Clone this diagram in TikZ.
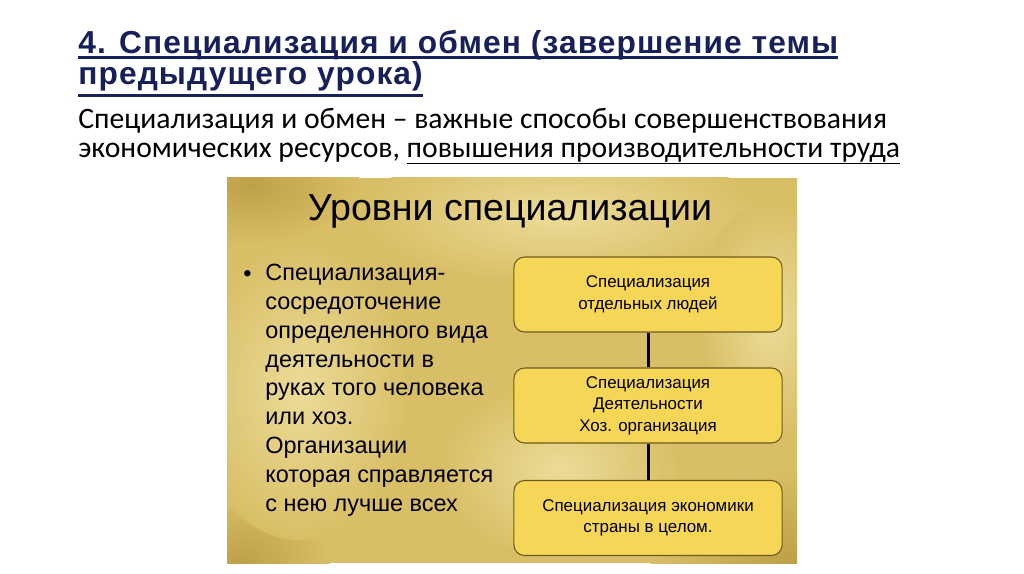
\documentclass[tikz,border=0pt]{standalone}
\usepackage{fontspec}
\setmainfont{Liberation Sans}
\newfontfamily\titlefont[FakeStretch=0.86, LetterSpace=3]{Liberation Sans Bold}
\newfontfamily\calib{Carlito}
\usetikzlibrary{positioning}

\definecolor{navy}{RGB}{24,32,92}
\definecolor{goldBase}{RGB}{216,190,102}
\definecolor{goldLight}{RGB}{236,220,152}
\definecolor{goldDark}{RGB}{190,160,72}
\definecolor{boxfill}{RGB}{246,214,86}
\definecolor{boxline}{RGB}{110,90,30}

% underline: thickness, depth below baseline, text
\newcommand{\lineunder}[3]{\setbox0\hbox{#3}\rlap{\rule[-#2]{\wd0}{#1}}\box0}
% stretch a line sideways to a given width, keep the factor for later lines
\newcommand{\fitline}[2]{\setbox2\hbox{#2}\pgfmathsetmacro\fitratio{#1/\the\wd2}%
  \global\let\titleratio\fitratio\scalebox{\fitratio}[1]{\box2}}

\tikzset{
  levelbox/.style={draw=boxline, line width=0.6pt, fill=boxfill, rounded corners=6pt,
    minimum width=152pt, minimum height=42.5pt, align=center, inner sep=0pt,
    font=\fontsize{9.6}{12.2}\selectfont},
  link/.style={line width=1.7pt, draw=black},
  glow/.style={inner color=goldLight, outer color=goldBase},
  shadow/.style={inner color=goldDark, outer color=goldBase}
}

\begin{document}
\begin{tikzpicture}[x=0.5669pt, y=-0.5669pt]
    \useasboundingbox (0,0) rectangle (1024,574);
    \fill[white] (0,0) rectangle (1024,574);

    % heading of the slide
    \node[anchor=base west, align=left, inner sep=0pt, text=navy,
          font=\titlefont\fontsize{18}{18.1}\selectfont] (title) at (78,85)
        {\lineunder{1.7pt}{3.4pt}{\fitline{430.8pt}{4. Специализация и обмен (завершение темы}}\\
         \lineunder{1.7pt}{6.8pt}{\scalebox{\titleratio}[1]{предыдущего урока)}}};
    \node[anchor=base west, align=left, inner sep=0pt,
          font=\calib\fontsize{16.8}{17}\selectfont] (intro) at (78,158)
        {Специализация и обмен – важные способы совершенствования\\
         экономических ресурсов, \lineunder{0.8pt}{3.4pt}{повышения производительности труда}};

    % gold panel
    \begin{scope}
      \clip (227,178) rectangle (797,563);
      \fill[goldBase] (227,178) rectangle (797,563);
      \shade[shadow] (250,185) ellipse (110 and 60);
      \shade[shadow] (790,560) ellipse (140 and 90);
      \shade[shadow] (240,560) ellipse (90 and 60);
      \shade[glow] (560,215) ellipse (200 and 70);
      \shade[glow] (300,390) ellipse (110 and 150);
      \shade[glow] (770,320) ellipse (70 and 120);
      \shade[glow] (560,470) ellipse (120 and 90);
    \end{scope}
    \node[inner sep=0pt, minimum width=323pt, minimum height=218pt] (panel) at (512,370.5) {};

    \node[anchor=base, inner sep=0pt, font=\fontsize{21.3}{21.3}\selectfont] (heading) at (510,221)
        {Уровни специализации};

    \node[anchor=base west, align=left, inner sep=0pt,
          font=\fontsize{13.3}{16.3}\selectfont] (bullettext) at (265,511)
        {Специализация-\\ сосредоточение\\ определенного вида\\ деятельности в\\
         руках того человека\\ или хоз.\\ Организации\\ которая справляется\\ с нею лучше всех};
    \node[anchor=base east, inner sep=0pt, font=\fontsize{13.3}{16.4}\selectfont] (dot) at (252,281) {•};

    % levels
    \node[levelbox] (lvlA) at (648,294.5) {Специализация\\ отдельных людей};
    \node[levelbox] (lvlB) at (648,405.5) {Специализация\\ Деятельности\\ Хоз. организация};
    \node[levelbox] (lvlC) at (648,518) {Специализация экономики\\ страны в целом.};

    \path[link] (lvlA) edge (lvlB);
    \path[link] (lvlB) edge (lvlC);
\end{tikzpicture}
\end{document}
